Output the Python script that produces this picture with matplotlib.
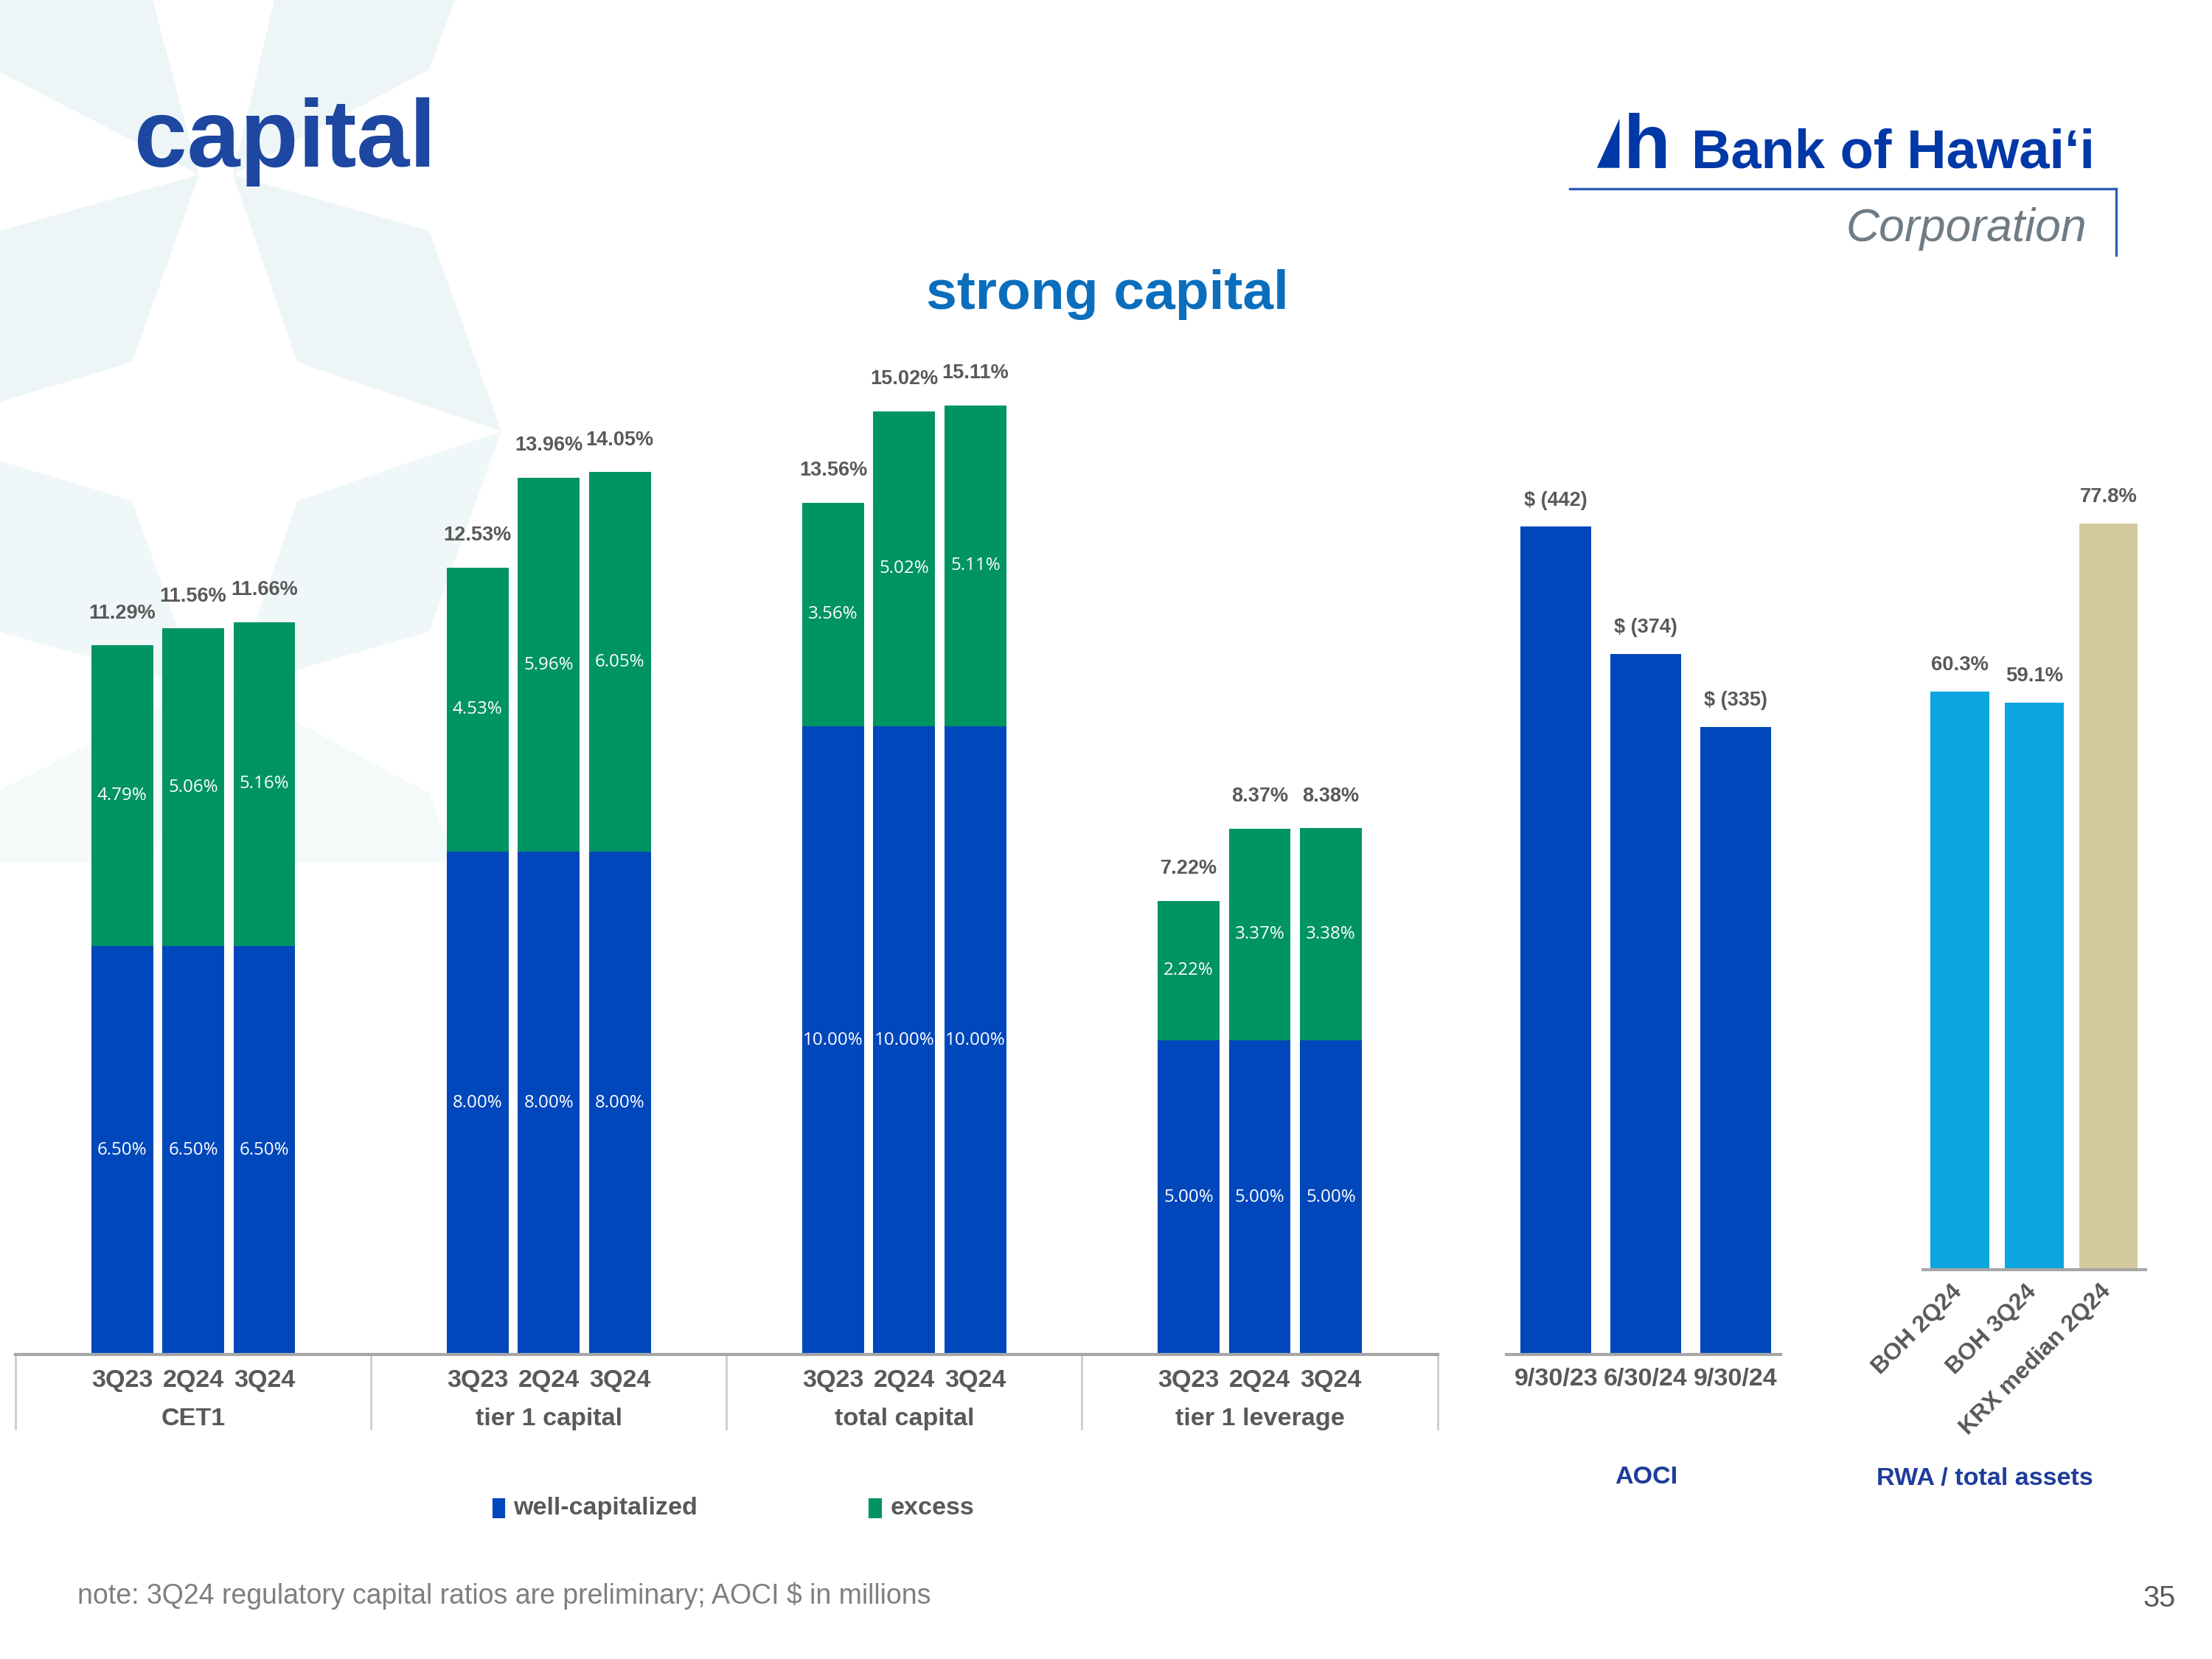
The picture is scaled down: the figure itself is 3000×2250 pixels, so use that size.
import matplotlib
matplotlib.use('Agg')
import matplotlib.pyplot as plt
import matplotlib.transforms as mtransforms
from matplotlib.patches import Polygon, Rectangle
from matplotlib.lines import Line2D

# data
groups = ['CET1', 'tier 1 capital', 'total capital', 'tier 1 leverage']
quarters = ['3Q23', '2Q24', '3Q24']
well_capitalized = [[6.50, 6.50, 6.50], [8.00, 8.00, 8.00], [10.00, 10.00, 10.00], [5.00, 5.00, 5.00]]
excess = [[4.79, 5.06, 5.16], [4.53, 5.96, 6.05], [3.56, 5.02, 5.11], [2.22, 3.37, 3.38]]
totals = [[11.29, 11.56, 11.66], [12.53, 13.96, 14.05], [13.56, 15.02, 15.11], [7.22, 8.37, 8.38]]

aoci_dates = ['9/30/23', '6/30/24', '9/30/24']
aoci = [-442, -374, -335]

rwa_labels = ['BOH 2Q24', 'BOH 3Q24', 'KRX median 2Q24']
rwa = [60.3, 59.1, 77.8]

BLUE = '#0047BB'
GREEN = '#009462'
LIGHTBLUE = '#0BA6DF'
TAN = '#D4C99F'
GRAY = '#595959'
NAVY = '#1F3D9B'

plt.rcParams['font.family'] = ['Liberation Sans', 'DejaVu Sans']

fig = plt.figure(figsize=(10, 7.5), dpi=300)

# layout helpers, in 1568x1176 slide pixels
def fx(px):
    return px / 1568.0

def fy(py):
    return 1 - py / 1176.0

# faint star in the background (slide art, in 3000x2250 pixels)
star = [
    ([(0, 0), (207, 0), (270, 237), (0, 98)], '#EDF5F7'),
    ([(372, 0), (617, 0), (582, 94), (316, 237)], '#EDF5F7'),
    ([(0, 313), (270, 237), (179, 491), (0, 545)], '#EDF5F7'),
    ([(316, 237), (582, 313), (680, 585), (403, 491)], '#EDF5F7'),
    ([(0, 857), (270, 933), (179, 679), (0, 625)], '#F0F7F8'),
    ([(316, 933), (582, 857), (680, 585), (403, 679)], '#F0F7F8'),
    ([(0, 1072), (270, 933), (207, 1170), (0, 1170)], '#F4F9FA'),
    ([(316, 933), (582, 1076), (617, 1170), (372, 1170)], '#F4F9FA'),
]
for pts, col in star:
    fig.add_artist(Polygon([(x / 3000.0, 1 - y / 2250.0) for x, y in pts], closed=True,
                           transform=fig.transFigure, facecolor=col, edgecolor='none',
                           zorder=-5))

# titles
fig.text(fx(95), fy(118), 'capital', fontsize=31, fontweight='bold',
         color='#1D47A0', ha='left', va='baseline')
fig.text(fx(785), fy(219), 'strong capital', fontsize=18, fontweight='bold',
         color='#0A6EBD', ha='center', va='baseline')

# logo
LOGO = '#0038A8'
fig.add_artist(Polygon([(fx(1132), fy(119)), (fx(1148), fy(84)), (fx(1148), fy(119))],
                       closed=True, transform=fig.transFigure, facecolor=LOGO,
                       edgecolor='none'))
fig.text(fx(1151), fy(119), 'h', fontsize=25, fontweight='bold', color=LOGO,
         ha='left', va='baseline')
fig.text(fx(1199), fy(119), 'Bank of Hawai\u02bbi', fontsize=17.8, fontweight='bold',
         color=LOGO, ha='left', va='baseline')
fig.add_artist(Line2D([fx(1113), fx(1500)], [fy(134), fy(134)], transform=fig.transFigure,
                      color='#2A5DB5', lw=0.8))
fig.add_artist(Line2D([fx(1500), fx(1500)], [fy(134), fy(181)], transform=fig.transFigure,
                      color='#2A5DB5', lw=0.8))
fig.text(fx(1479), fy(171), 'Corporation', fontsize=15, style='italic',
         color='#6F7C85', ha='right', va='baseline')

# regulatory ratios
ax = fig.add_axes([fx(11), fy(960), (1019 - 11) / 1568.0, (960 - 250) / 1176.0])
ax.patch.set_alpha(0)
trans = mtransforms.blended_transform_factory(ax.transData, ax.transAxes)
for g in range(len(groups)):
    xs = [g * 5 + j for j in range(len(quarters))]
    ax.bar(xs, well_capitalized[g], width=0.87, color=BLUE, lw=0)
    ax.bar(xs, excess[g], bottom=well_capitalized[g], width=0.87, color=GREEN, lw=0)
    for j, x in enumerate(xs):
        wc = well_capitalized[g][j]
        ex = excess[g][j]
        ax.text(x, wc / 2, f'{wc:.2f}%', ha='center', va='center', fontsize=5.8,
                color='white', family=['Open Sans', 'DejaVu Sans'])
        ax.text(x, wc + ex / 2, f'{ex:.2f}%', ha='center', va='center', fontsize=5.8,
                color='white', family=['Open Sans', 'DejaVu Sans'])
        ax.annotate(f'{totals[g][j]:.2f}%', xy=(x, totals[g][j]), xytext=(0, 7.3),
                    textcoords='offset points', ha='center', va='bottom',
                    fontsize=6.5, fontweight='bold', color=GRAY)
        ax.annotate(quarters[j], xy=(x, 0), xycoords=trans, xytext=(0, -8.6),
                    textcoords='offset points', ha='center', va='center',
                    fontsize=8.2, fontweight='bold', color=GRAY)
    ax.annotate(groups[g], xy=(g * 5 + 1, 0), xycoords=trans, xytext=(0, -21),
                textcoords='offset points', ha='center', va='center',
                fontsize=8.2, fontweight='bold', color=GRAY)
for b in [-1.5, 3.5, 8.5, 13.5, 18.5]:
    ax.plot([b, b], [0, -53 / 710.0], transform=trans, color='#C8C8C8', lw=0.6,
            clip_on=False)
ax.set_xlim(-1.5, 18.5)
ax.set_ylim(0, 15.95)
ax.set_xticks([])
ax.set_yticks([])
for s in ['top', 'left', 'right']:
    ax.spines[s].set_visible(False)
ax.spines['bottom'].set_color('#A6A6A6')
ax.spines['bottom'].set_linewidth(1.0)

# legend
fig.add_artist(Rectangle((fx(350), fy(1075)), 7 / 1568.0, 12 / 1176.0,
                         transform=fig.transFigure, color=BLUE))
fig.text(fx(364), fy(1069), 'well-capitalized', fontsize=8.2, fontweight='bold',
         color=GRAY, ha='left', va='center')
fig.add_artist(Rectangle((fx(617), fy(1075)), 7 / 1568.0, 12 / 1176.0,
                         transform=fig.transFigure, color=GREEN))
fig.text(fx(631), fy(1069), 'excess', fontsize=8.2, fontweight='bold',
         color=GRAY, ha='left', va='center')

# AOCI
ax2 = fig.add_axes([fx(1068), fy(960), 194 / 1568.0, 710 / 1176.0])
ax2.patch.set_alpha(0)
mag = [-v for v in aoci]
ax2.bar(range(len(aoci)), mag, width=0.79, color=BLUE, lw=0)
for i, v in enumerate(aoci):
    ax2.annotate(f'$ ({-v})', xy=(i, mag[i]), xytext=(0, 5.5), textcoords='offset points',
                 ha='center', va='bottom', fontsize=6.5, fontweight='bold', color=GRAY)
ax2.set_xlim(-0.55, 2.5)
ax2.set_ylim(0, 535)
ax2.set_xticks(range(len(aoci)))
ax2.set_xticklabels(aoci_dates, fontsize=8.2, fontweight='bold', color=GRAY)
ax2.tick_params(axis='x', length=0, pad=4.5)
ax2.set_yticks([])
for s in ['top', 'left', 'right']:
    ax2.spines[s].set_visible(False)
ax2.spines['bottom'].set_color('#A6A6A6')
ax2.spines['bottom'].set_linewidth(1.0)
fig.text(fx(1167), fy(1047), 'AOCI', fontsize=8.2, fontweight='bold', color=NAVY,
         ha='center', va='center')

# RWA / total assets
ax3 = fig.add_axes([fx(1363), fy(900), 158 / 1568.0, 650 / 1176.0])
ax3.patch.set_alpha(0)
ax3.bar(range(len(rwa)), rwa, width=0.79, color=[LIGHTBLUE, LIGHTBLUE, TAN], lw=0)
for i, v in enumerate(rwa):
    ax3.annotate(f'{v:.1f}%', xy=(i, v), xytext=(0, 5.5), textcoords='offset points',
                 ha='center', va='bottom', fontsize=6.6, fontweight='bold', color=GRAY)
    ax3.annotate(rwa_labels[i], xy=(i, 0), xytext=(-3, -3.5), textcoords='offset points',
                 rotation=45, rotation_mode='anchor', ha='right', va='top',
                 fontsize=7.7, fontweight='bold', color=GRAY)
ax3.set_xlim(-0.5, 2.5)
ax3.set_ylim(0, 95.6)
ax3.set_xticks([])
ax3.set_yticks([])
for s in ['top', 'left', 'right']:
    ax3.spines[s].set_visible(False)
ax3.spines['bottom'].set_color('#A6A6A6')
ax3.spines['bottom'].set_linewidth(1.0)
fig.text(fx(1407), fy(1048), 'RWA / total assets', fontsize=8.2, fontweight='bold',
         color=NAVY, ha='center', va='center')

# footer
fig.text(fx(55), fy(1131), 'note: 3Q24 regulatory capital ratios are preliminary; AOCI $ in millions',
         fontsize=9, color='#7F7F7F', ha='left', va='center')
fig.text(fx(1542), fy(1133), '35', fontsize=9.5, color=GRAY, ha='right', va='center')

fig.savefig('out.png', dpi=300, facecolor='white')
plt.close(fig)
